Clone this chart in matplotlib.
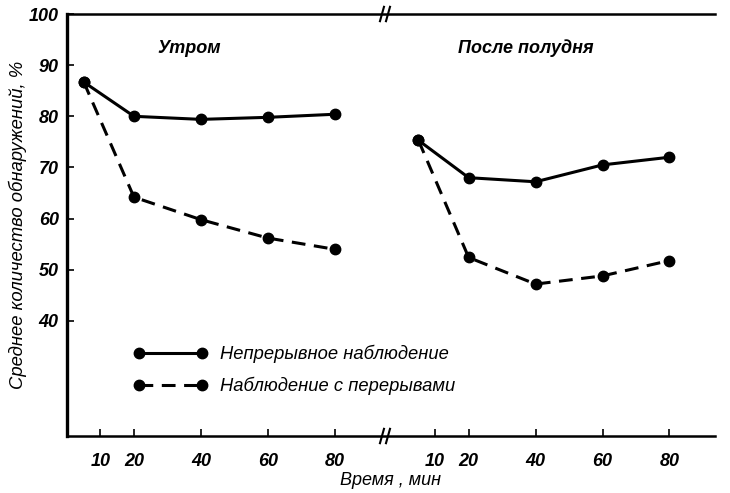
import numpy as np
import matplotlib.pyplot as plt

# minutes (first point ~5 min)
minutes = [5, 20, 40, 60, 80]
tick_minutes = [10, 20, 40, 60, 80]

morning_cont = [86.7, 80.0, 79.4, 79.8, 80.4]
morning_break = [86.7, 64.2, 59.8, 56.2, 54.0]
noon_cont = [75.3, 68.0, 67.2, 70.5, 72.0]
noon_break = [75.3, 52.4, 47.2, 48.8, 51.8]

y_ticks = [40, 50, 60, 70, 80, 90, 100]

OFFSET = 100   # afternoon panel shifted along the same axis
BREAK = 95

plt.rcParams['font.family'] = ['Liberation Sans Narrow', 'Liberation Sans', 'DejaVu Sans']
plt.rcParams['font.style'] = 'italic'

fig = plt.figure(figsize=(7.3, 4.93), dpi=100)
ax = fig.add_axes([0.0918, 0.1156, 0.8872, 0.856])

x_left = np.array(minutes)
x_right = np.array(minutes) + OFFSET
lw, ms = 2.2, 7.5
dash = (0, (4.5, 2.8))

l1, = ax.plot(x_left, morning_cont, '-o', color='black', lw=lw, ms=ms)
ax.plot(x_left, morning_break, 'o', color='black', ms=ms, linestyle=dash, lw=lw)
ax.plot(x_right, noon_cont, '-o', color='black', lw=lw, ms=ms)
l2, = ax.plot(x_right, noon_break, 'o', color='black', ms=ms, linestyle=dash, lw=lw)

ax.set_xlim(0, 193.5)
ax.set_ylim(17.5, 100)

xt = list(tick_minutes) + [t + OFFSET for t in tick_minutes]
ax.set_xticks(xt)
ax.set_xticklabels([str(t) for t in tick_minutes] * 2, fontsize=13, fontweight='bold')
ax.set_yticks(y_ticks)
ax.set_yticklabels([str(v) for v in y_ticks], fontsize=13, fontweight='bold')
ax.tick_params(axis='x', direction='in', length=5, width=1.2, pad=12)
ax.tick_params(axis='y', direction='in', length=5, width=1.2, pad=6)

ax.spines['right'].set_visible(False)
ax.spines['left'].set_linewidth(2.4)
ax.spines['top'].set_linewidth(1.8)
ax.spines['bottom'].set_linewidth(1.8)

# break marks on top and bottom spines
for yb in (0, 1):
    for dx in (-0.9, 0.9):
        ax.plot([BREAK + dx - 0.6, BREAK + dx + 0.6], [yb - 0.017, yb + 0.017],
                color='black', lw=1.5, transform=ax.get_xaxis_transform(),
                clip_on=False)

ax.text(36.5, 93.3, 'Утром', ha='center', va='center', fontsize=13, fontweight='bold')
ax.text(137, 93.3, 'После полудня', ha='center', va='center', fontsize=13,
        fontweight='bold')

ax.set_ylabel('Среднее количество обнаружений, %', fontsize=13.3, labelpad=1)
ax.set_xlabel('Время , мин', fontsize=13, labelpad=2)

ax.legend([l1, l2], ['Непрерывное наблюдение', 'Наблюдение с перерывами'],
          numpoints=2, handlelength=4.04, frameon=False, fontsize=13.2,
          loc='center left', bbox_to_anchor=(0.102, 0.156), labelspacing=0.75,
          handletextpad=0.71, borderpad=0, borderaxespad=0)

fig.savefig('out.png', dpi=100)
